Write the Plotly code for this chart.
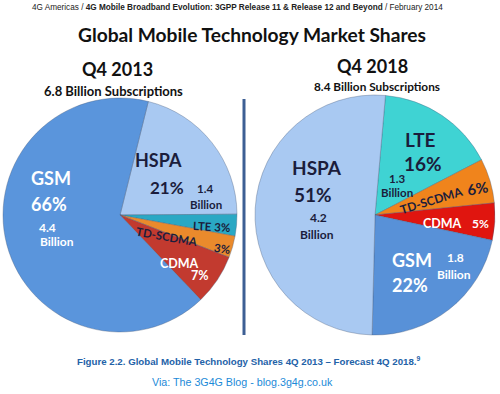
import plotly.graph_objects as go

# ---------------- data ----------------
techs_2013 = ["HSPA", "LTE", "TD-SCDMA", "CDMA", "GSM"]
shares_2013 = [21, 3, 3, 7, 66]
billions_2013 = {"GSM": 4.4, "HSPA": 1.4}
total_2013 = 6.8

techs_2018 = ["LTE", "TD-SCDMA", "CDMA", "GSM", "HSPA"]
shares_2018 = [16, 6, 5, 22, 51]
billions_2018 = {"HSPA": 4.2, "LTE": 1.3, "GSM": 1.8}
total_2018 = 8.4

W, H = 500, 394
FONT = "Lato"
DARK = "#1b1d3c"

colors_2013 = {"HSPA": "#a9c9f2", "LTE": "#2aa8c4", "TD-SCDMA": "#ea8a2c",
               "CDMA": "#c23a2f", "GSM": "#5a95dc"}
colors_2018 = {"HSPA": "#a9c9f2", "LTE": "#3fd3d3", "TD-SCDMA": "#f0841c",
               "CDMA": "#e0150f", "GSM": "#5891d8"}


def px(x):
    return x / W


def py(y):
    return 1 - y / H


fig = go.Figure()
fig.add_trace(go.Pie(
    labels=techs_2013, values=shares_2013, sort=False, direction="clockwise",
    rotation=14, textinfo="none", hoverinfo="label+percent",
    marker=dict(colors=[colors_2013[t] for t in techs_2013],
                line=dict(color="rgba(70,90,120,0.45)", width=0.8)),
    domain=dict(x=[px(3), px(237)], y=[py(332), py(98)]), showlegend=False,
))
fig.add_trace(go.Pie(
    labels=techs_2018, values=shares_2018, sort=False, direction="clockwise",
    rotation=5, textinfo="none", hoverinfo="label+percent",
    marker=dict(colors=[colors_2018[t] for t in techs_2018],
                line=dict(color="rgba(70,90,120,0.45)", width=0.8)),
    domain=dict(x=[px(255), px(495)], y=[py(335), py(95)]), showlegend=False,
))

ann = []


def txt(x, y, s, size, color=DARK, family=FONT, bold=True, angle=0, **kw):
    ann.append(dict(x=px(x), y=py(y), xref="paper", yref="paper", text=s,
                    showarrow=False, xanchor="center", yanchor="middle",
                    textangle=angle,
                    font=dict(size=size, color=color, family=family,
                              weight="bold" if bold else "normal"), **kw))


s13 = dict(zip(techs_2013, shares_2013))
s18 = dict(zip(techs_2018, shares_2018))

# header
txt(237, 8, "4G Americas / <b>4G Mobile Broadband Evolution: 3GPP Release 11 &amp; "
    "Release 12 and Beyond</b> / February 2014", 8.2, color="#222222",
    family="Liberation Sans", bold=False)
txt(252, 34, "Global Mobile Technology Market Shares", 19.2, color="#111111")
txt(117, 69, "Q4 2013", 18, color="#111111")
txt(113, 91, f"{total_2013} Billion Subscriptions", 13, color="#111111")
txt(372, 66, "Q4 2018", 18, color="#111111")
txt(377, 87, f"{total_2018} Billion Subscriptions", 11.8, color="#111111")

# 2013 labels
txt(51, 178, "GSM", 18, color="white")
txt(49, 204, f"{s13['GSM']}%", 18, color="white")
txt(47, 227, f"{billions_2013['GSM']}", 12, color="white")
txt(57, 242, "Billion", 12, color="white")
txt(158, 160, "HSPA", 18)
txt(167, 187, f"{s13['HSPA']}%", 17)
txt(205, 188, f"{billions_2013['HSPA']}", 11.5)
txt(206, 205, "Billion", 11.5)
txt(211, 226, f"LTE {s13['LTE']}%", 11.5, angle=3)
txt(167, 236, "TD-SCDMA", 11.5, angle=10)
txt(222, 249, f"{s13['TD-SCDMA']}%", 11.5, angle=8)
txt(179, 263, "CDMA", 12.5, color="white")
txt(200, 275, f"{s13['CDMA']}%", 12.5, color="white")

# 2018 labels
txt(420, 140, "LTE", 19)
txt(423, 163, f"{s18['LTE']}%", 19)
txt(397, 178, f"{billions_2018['LTE']}", 11.5)
txt(397, 192, "Billion", 11.5)
txt(317, 168, "HSPA", 19)
txt(313, 194, f"{s18['HSPA']}%", 19)
txt(318, 217, f"{billions_2018['HSPA']}", 12)
txt(317, 234, "Billion", 12)
txt(431, 200, "TD-SCDMA", 12, angle=-17)
txt(477, 188, f"{s18['TD-SCDMA']}%", 15, angle=-10)
txt(442, 223, "CDMA", 12.5, color="white")
txt(480, 223, f"{s18['CDMA']}%", 12, color="white")
txt(412, 260, "GSM", 18, color="white")
txt(410, 285, f"{s18['GSM']}%", 18, color="white")
txt(455, 257, f"{billions_2018['GSM']}", 12, color="white")
txt(454, 274, "Billion", 12, color="white")

# captions
txt(249, 361, "Figure 2.2. Global Mobile Technology Shares 4Q 2013 – Forecast 4Q 2018.<sup>9</sup>",
    9.7, color="#2362a8", family="Liberation Sans")
txt(242, 382, "Via: The 3G4G Blog - blog.3g4g.co.uk", 10.7, color="#1c8ad8",
    family="Liberation Sans", bold=False)

fig.update_layout(
    width=W, height=H, margin=dict(l=0, r=0, t=0, b=0),
    paper_bgcolor="white", plot_bgcolor="white",
    annotations=ann,
    shapes=[dict(type="line", xref="paper", yref="paper",
                 x0=px(244), x1=px(244), y0=py(99), y1=py(335),
                 line=dict(color="#3d5f94", width=3))],
)

fig.write_html("out.html", config={"displayModeBar": False},
               post_script="document.body.style.margin='0';"
                           "document.body.style.overflow='hidden';")
